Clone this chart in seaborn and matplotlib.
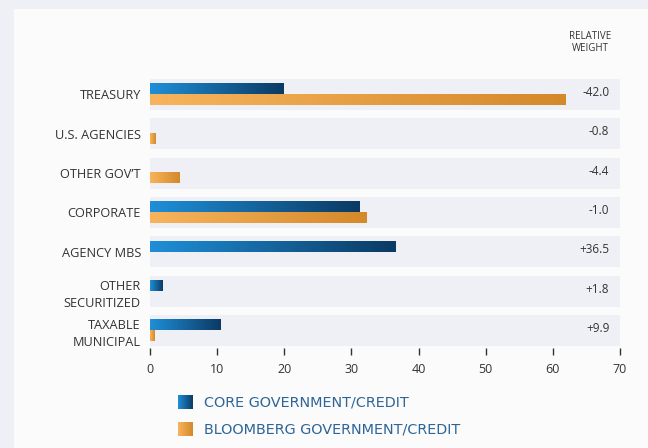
import numpy as np
import pandas as pd
import seaborn as sns
import matplotlib.pyplot as plt
from matplotlib.colors import LinearSegmentedColormap, to_rgb

# data
sectors  = ['TREASURY', 'U.S. AGENCIES', 'OTHER GOV\u2019T', 'CORPORATE',
            'AGENCY MBS', 'OTHER\nSECURITIZED', 'TAXABLE\nMUNICIPAL']
core     = [19.9, 0.0, 0.0, 31.2, 36.5, 1.8, 10.5]
bench    = [61.9, 0.8, 4.4, 32.2, 0.0, 0.0, 0.6]
relative = ['-42.0', '-0.8', '-4.4', '-1.0', '+36.5', '+1.8', '+9.9']
series   = ['CORE GOVERNMENT/CREDIT', 'BLOOMBERG GOVERNMENT/CREDIT']
xticks   = [0, 10, 20, 30, 40, 50, 60, 70]

df = pd.DataFrame({
    'sector': sectors * 2,
    'weight': core + bench,
    'series': [series[0]] * len(sectors) + [series[1]] * len(sectors),
})

base = {series[0]: '#1f8fd8', series[1]: '#f8b45c'}
cmaps = {
    series[0]: LinearSegmentedColormap.from_list('core', ['#1f8fd8', '#0b3a63']),
    series[1]: LinearSegmentedColormap.from_list('bench', ['#f8b45c', '#d4892a']),
}
grad = np.linspace(0, 1, 256).reshape(1, -1)

sns.set_style('white')
plt.rcParams['font.family'] = ['Open Sans', 'DejaVu Sans']

fig = plt.figure(figsize=(6.48, 4.48), dpi=100, facecolor='#eff0f6')
W, H = 648, 448
# white panel behind everything
panel = plt.Rectangle((14 / W, 0), 1, 1 - 9 / H, transform=fig.transFigure,
                      facecolor='#fbfbfb', edgecolor='none', zorder=-10)
fig.patches.append(panel)

top_px, bot_px = 74.8, 348.2
ax = fig.add_axes([150 / W, 1 - bot_px / H, 470 / W, (bot_px - top_px) / H])
ax.set_facecolor('none')

sns.barplot(data=df, y='sector', x='weight', hue='series', orient='h',
            width=0.52, ax=ax, legend=False, zorder=2, saturation=1,
            palette=[base[series[0]], base[series[1]]])

# paint each bar with a left-to-right gradient
for bar in list(ax.patches):
    x0, y0 = bar.get_x(), bar.get_y()
    w, h = bar.get_width(), bar.get_height()
    bar.set_visible(False)
    if w <= 0:
        continue
    fc = np.array(bar.get_facecolor()[:3])
    name = series[0] if np.allclose(fc, to_rgb(base[series[0]]), atol=0.02) else series[1]
    ax.imshow(grad, cmap=cmaps[name], aspect='auto', extent=[x0, x0 + w, y0 + h, y0],
              zorder=3, interpolation='bicubic')

# grey row bands
for i in range(len(sectors)):
    ax.axhspan(i - 0.395, i + 0.395, color='#eef0f5', zorder=0, lw=0)

ax.set_xlim(0, 70)
ax.set_ylim(6.45, -0.5)
ax.set_xticks(xticks)
ax.set_xlabel('')
ax.set_ylabel('')
for s in ax.spines.values():
    s.set_visible(False)
ax.tick_params(axis='x', length=5, width=1, color='#333333', labelsize=9,
               labelcolor='#333333', pad=6, bottom=True)
ax.tick_params(axis='y', length=0, labelsize=9.2, labelcolor='#333333', pad=6.5)
for lab in ax.get_yticklabels():
    lab.set_linespacing(1.45)
    lab.set_horizontalalignment('right')

for i, r in enumerate(relative):
    ax.text(68.4, i - 0.05, r, ha='right', va='center', fontsize=8.5, color='#333333', zorder=4)

fig.text(590 / W, 1 - 42.5 / H, 'RELATIVE\nWEIGHT', ha='center', va='center',
         fontsize=7, color='#333333', linespacing=1.05)

# legend
for name, y_px in zip(series, [402, 429]):
    lax = fig.add_axes([178 / W, 1 - (y_px + 7.5) / H, 15 / W, 15 / H])
    lax.imshow(grad, cmap=cmaps[name], aspect='auto', interpolation='bicubic')
    lax.axis('off')
    fig.text(204 / W, 1 - y_px / H, name, ha='left', va='center', fontsize=10.4,
             color='#2e6598', family=['DejaVu Sans'])

fig.savefig('out.png', dpi=100, facecolor=fig.get_facecolor())
